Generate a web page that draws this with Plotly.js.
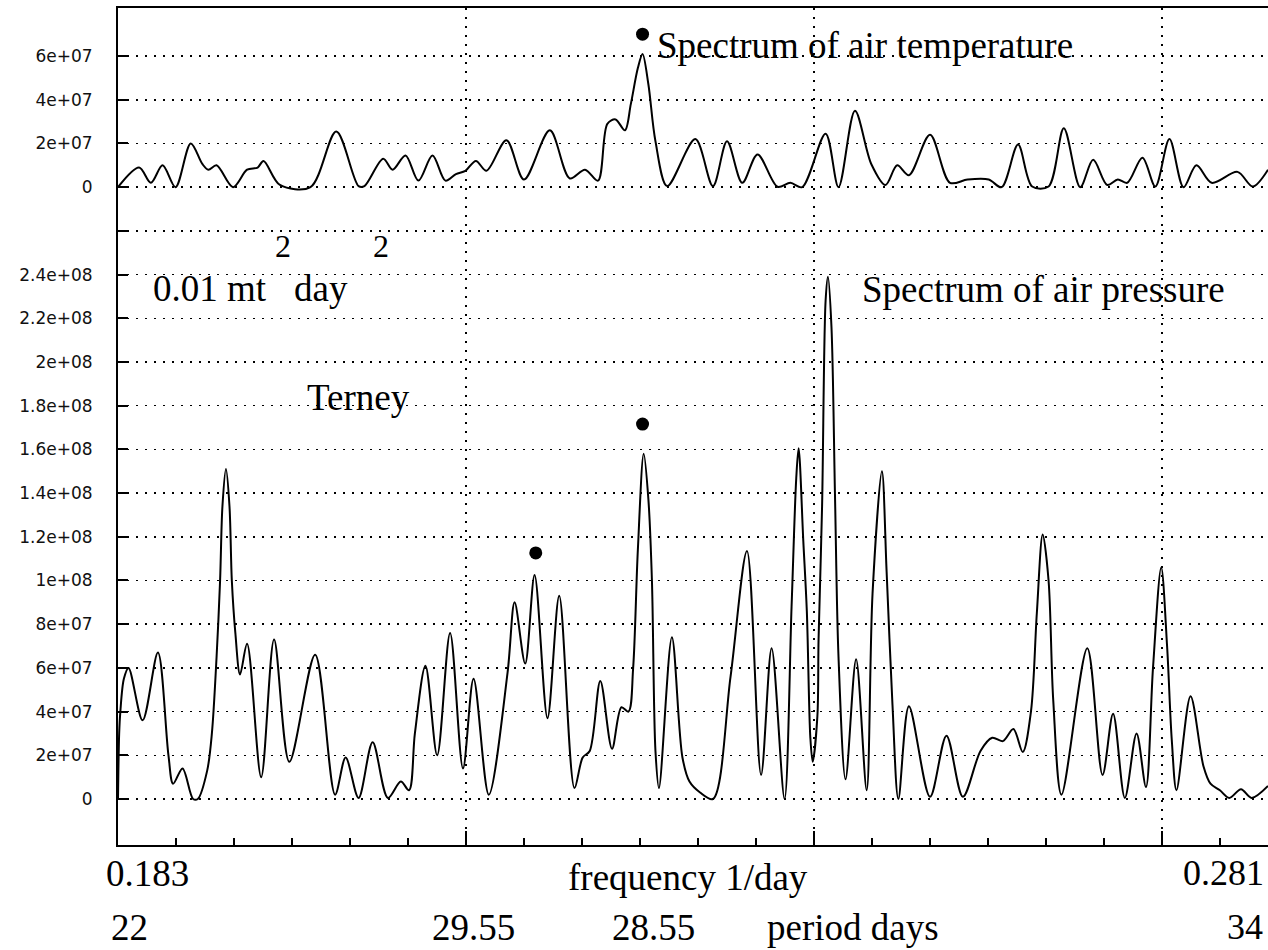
<!DOCTYPE html>
<html>
<head>
<meta charset="utf-8">
<script src="https://cdn.plot.ly/plotly-3.0.1.min.js"></script>
<style>html,body{margin:0;padding:0;background:#fff;}#chart{width:1268px;height:950px;}</style>
</head>
<body>
<div id="chart"></div>
<script>
// ---- data (spectral density, units of 1e7) ----
const freqPressure = [0.1830,0.1831,0.1832,0.1835,0.1839,0.1851,0.1864,0.1873,0.1877,0.1885,
0.1894,0.1898,0.1906,0.1910,0.1914,0.1917,0.1919,0.1922,0.1925,0.1927,
0.1930,0.1934,0.1940,0.1952,0.1963,0.1976,0.1998,0.2015,0.2024,0.2035,
0.2047,0.2060,0.2071,0.2078,0.2083,0.2092,0.2102,0.2113,0.2124,0.2133,
0.2146,0.2162,0.2168,0.2177,0.2185,0.2196,0.2206,0.2219,0.2226,0.2232,
0.2241,0.2251,0.2259,0.2265,0.2269,0.2273,0.2278,0.2282,0.2285,0.2288,
0.2291,0.2302,0.2311,0.2317,0.2326,0.2337,0.2352,0.2366,0.2378,0.2387,
0.2398,0.2404,0.2408,0.2410,0.2414,0.2417,0.2420,0.2422,0.2426,0.2427,
0.2430,0.2433,0.2435,0.2438,0.2441,0.2444,0.2450,0.2459,0.2468,0.2473,
0.2481,0.2485,0.2490,0.2495,0.2504,0.2522,0.2536,0.2550,0.2565,0.2575,
0.2584,0.2593,0.2601,0.2608,0.2613,0.2618,0.2623,0.2627,0.2634,0.2656,
0.2669,0.2678,0.2688,0.2698,0.2706,0.2712,0.2719,0.2724,0.2728,0.2732,
0.2744,0.2755,0.2761,0.2769,0.2777,0.2787,0.2796,0.2810];
const pressureSpectrum = [0,3.0,4.0,5.5,6.0,3.6,6.7,2.0,0.7,1.4,
0,0,1.3,3.0,6.5,10.0,13.4,15.1,13.4,10.0,
7.6,5.7,7.1,1.0,7.3,1.7,6.6,0.2,1.9,0.05,
2.6,0.05,0.8,0.4,3.0,6.1,2.0,7.6,1.4,5.5,
0.2,5.8,9.0,6.2,10.25,3.7,9.3,0.5,1.9,2.2,
5.4,2.3,4.2,4.0,6.0,11.4,15.8,13.7,10.0,2.2,
0.5,7.4,1.9,0.8,0.3,0,5.6,11.35,1.1,6.9,
0,8.8,14.7,16.05,11.8,8.6,2.8,1.7,3.8,7.3,
13.4,22.8,23.9,21.6,13.9,6.5,0.9,6.4,0.4,9.4,
15.0,10.4,4.3,0,4.25,0.1,2.9,0.1,2.2,2.8,
2.65,3.2,2.15,4.0,8.5,12.1,10.0,4.5,0.2,6.9,
1.1,3.9,0.05,3.0,0.55,6.0,10.6,7.0,2.7,0.4,
4.7,1.5,0.7,0.4,0.05,0.45,0.05,0.6];

const freqTemperature = [0.1830,0.1848,0.1858,0.1868,0.1879,0.1892,0.1902,0.1907,0.1914,0.1928,
0.1940,0.1949,0.1954,0.1968,0.1994,0.2016,0.2035,0.2040,0.2056,0.2064,
0.2075,0.2086,0.2098,0.2109,0.2118,0.2126,0.2135,0.2144,0.2161,0.2176,
0.2198,0.2215,0.2228,0.2239,0.2247,0.2254,0.2262,0.2267,0.2273,0.2277,
0.2282,0.2288,0.2298,0.2322,0.2337,0.2349,0.2362,0.2375,0.2392,0.2403,
0.2413,0.2433,0.2444,0.2458,0.2472,0.2484,0.2494,0.2504,0.2522,0.2539,
0.2554,0.2572,0.2583,0.2597,0.2609,0.2623,0.2636,0.2650,0.2661,0.2673,
0.2682,0.2690,0.2703,0.2714,0.2726,0.2738,0.2749,0.2762,0.2784,0.2797,
0.2810];
const temperatureSpectrum = [0,0.9,0.2,1.0,0.0,2.0,1.05,0.8,1.0,0,
0.8,0.9,1.2,0.1,0,2.55,0.05,0.05,1.3,0.8,
1.45,0.3,1.45,0.3,0.6,0.75,1.2,0.75,2.15,0.35,
2.6,0.4,0.8,0.3,2.9,3.1,2.6,3.8,5.45,6.1,
4.7,2.1,0.05,2.2,0.05,2.1,0.2,1.5,0.02,0.2,
0,2.45,0,3.5,1.05,0.1,1.0,0.55,2.4,0.2,
0.35,0.35,0,1.95,0.03,0.03,2.7,0,1.25,0.1,
0.35,0.2,1.35,0.03,2.2,0,1.0,0.2,0.7,0.03,
0.8];

const markFreqPressure = [0.2186, 0.2277];
const markPressure = [11.26, 17.16];
const markFreqTemperature = [0.2277];
const markTemperature = [7.0];

const yTickVals = [0,2,4,6,8,10,12,14,16,18,20,22,24,26,28,30,32,34];
const yTickText = ['0','2e+07','4e+07','6e+07','8e+07','1e+08','1.2e+08','1.4e+08','1.6e+08','1.8e+08','2e+08','2.2e+08','2.4e+08','','0','2e+07','4e+07','6e+07'];

// ---- layout helpers ----
const W = 1268, H = 950, ML = 118, MR = 0, MT = 8, MB = 105;
const PW = W - ML - MR, PH = H - MT - MB;
const pxX = x => (x - ML) / PW;
const pxY = y => (H - MB - y) / PH;
const xMin = 0.183, xMax = 0.281;
const majorStep = (xMax - xMin) * 348 / 1150;
const TEMP_OFFSET = 28; // top panel zero sits at 2.8e8 on the shared scale
const yRange = [-2.105, 36.2];

const serif = 'Liberation Serif, Times New Roman, serif';
function ann(text, x, y, size, anchor) {
  return {text: text, xref: 'paper', yref: 'paper', x: pxX(x), y: pxY(y),
    xanchor: anchor || 'left', yanchor: 'middle', showarrow: false,
    font: {family: serif, size: size || 37, color: '#000'}};
}
function box(x0, y0, x1, y1) {
  return {type: 'rect', xref: 'paper', yref: 'paper', x0: pxX(x0), x1: pxX(x1), y0: pxY(y1), y1: pxY(y0),
    fillcolor: '#fff', line: {width: 0}, layer: 'between'};
}

const lineStyle = {color: '#000', width: 2, shape: 'spline', smoothing: 0.9};
const traces = [
  {x: freqPressure, y: pressureSpectrum, type: 'scatter', mode: 'lines',
   line: lineStyle, xaxis: 'x', yaxis: 'y', hoverinfo: 'skip'},
  {x: freqTemperature, y: temperatureSpectrum, type: 'scatter', mode: 'lines',
   line: lineStyle, xaxis: 'x', yaxis: 'y2', hoverinfo: 'skip'},
  {x: markFreqPressure, y: markPressure, type: 'scatter', mode: 'markers',
   marker: {color: '#000', size: 13}, yaxis: 'y'},
  {x: markFreqTemperature, y: markTemperature, type: 'scatter', mode: 'markers',
   marker: {color: '#000', size: 13}, yaxis: 'y2'}
];

const layout = {
  width: W, height: H, autosize: false,
  margin: {l: ML, r: MR, t: MT, b: MB, pad: 0},
  paper_bgcolor: '#fff', plot_bgcolor: '#fff',
  showlegend: false,
  xaxis: {range: [xMin, xMax], tickmode: 'linear', tick0: xMin, dtick: majorStep,
    ticks: 'inside', ticklen: 14, tickwidth: 2, tickcolor: '#000', showticklabels: false,
    showgrid: true, gridcolor: '#000', griddash: '2px,7px', gridwidth: 1.5,
    showline: true, mirror: true, linecolor: '#000', linewidth: 2, zeroline: false,
    minor: {ticks: 'inside', ticklen: 7, tickwidth: 2, tickcolor: '#000', tick0: xMin, dtick: majorStep / 6, showgrid: false}},
  yaxis: {range: yRange, tickmode: 'array', tickvals: yTickVals, ticktext: yTickText,
    ticks: 'inside', ticklen: 10, tickwidth: 2, tickcolor: '#000',
    showgrid: true, gridcolor: '#000', griddash: '2px,7px', gridwidth: 1.5,
    showline: true, linecolor: '#000', linewidth: 2, zeroline: false,
    ticklabelstandoff: 20,
    tickfont: {family: 'DejaVu Sans, sans-serif', size: 17, color: '#111'}},
  yaxis2: {range: [yRange[0] - TEMP_OFFSET, yRange[1] - TEMP_OFFSET], overlaying: 'y', visible: false},
  shapes: [
    box(635, 17, 1258, 72),
    box(145, 262, 462, 335),
    box(267, 222, 462, 240),
    box(303, 395, 578, 458),
    box(858, 262, 1228, 335)
  ],
  annotations: [
    ann('Spectrum of air temperature', 655, 45),
    ann('Spectrum of air pressure', 860, 289),
    ann('0.01 mt', 151, 288),
    ann('2', 273, 246, 32),
    ann('day', 292, 288),
    ann('2', 371, 246, 32),
    ann('Terney', 305, 397),
    ann('0.183', 104, 873),
    ann('frequency 1/day', 566, 877),
    ann('0.281', 1266, 873, 36, 'right'),
    ann('22', 109, 927),
    ann('29.55', 430, 927),
    ann('28.55', 610, 927),
    ann('period days', 765, 927),
    ann('34', 1265, 927, 36, 'right')
  ]
};

Plotly.newPlot('chart', traces, layout, {staticPlot: true, displayModeBar: false});
</script>
</body>
</html>
